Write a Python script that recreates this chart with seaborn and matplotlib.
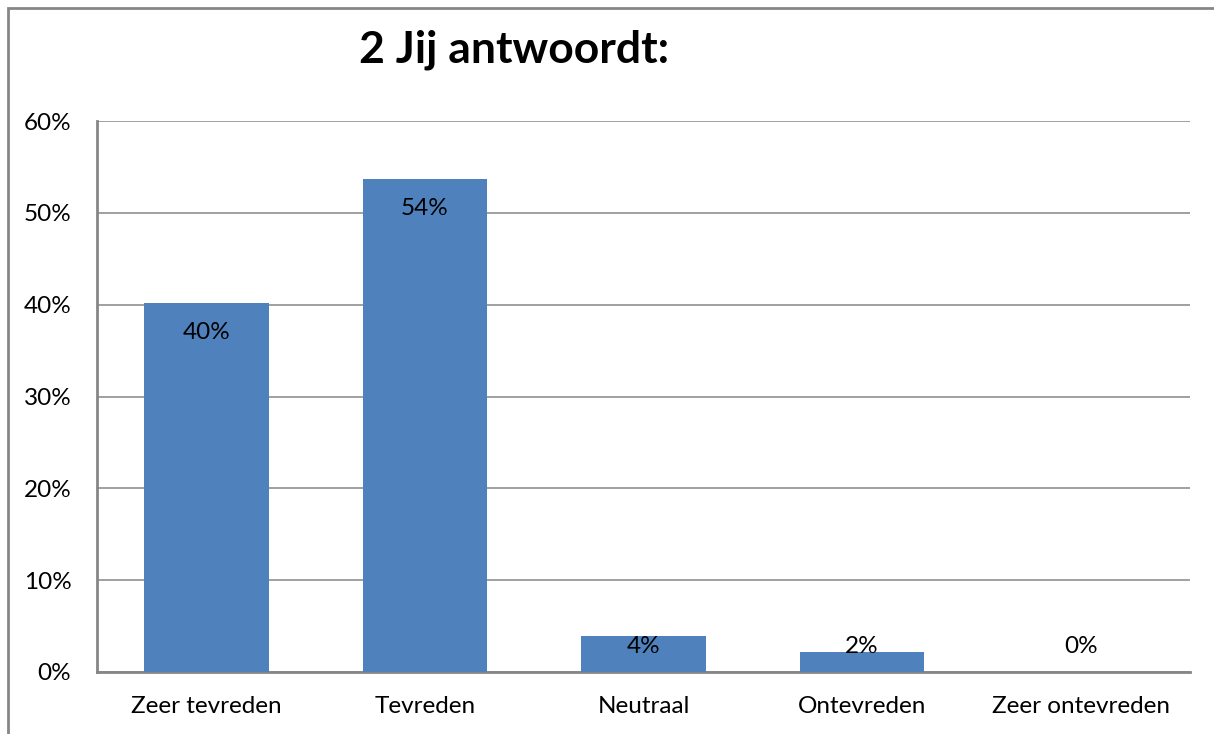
import matplotlib
matplotlib.use("Agg")
import matplotlib.pyplot as plt
import seaborn as sns
import pandas as pd
from matplotlib.patches import Rectangle

categories = ["Zeer tevreden", "Tevreden", "Neutraal", "Ontevreden", "Zeer ontevreden"]
values = [40.2, 53.7, 3.9, 2.2, 0.0]
labels = ["40%", "54%", "4%", "2%", "0%"]
yticks = [0, 10, 20, 30, 40, 50, 60]
ytick_labels = ["0%", "10%", "20%", "30%", "40%", "50%", "60%"]
title = "2 Jij antwoordt:"

sns.set_theme(style="white")
plt.rcParams['font.family'] = ['Lato', 'DejaVu Sans']
plt.rcParams['text.color'] = 'black'

W, H = 1214, 734
fig = plt.figure(figsize=(W / 100, H / 100), dpi=100)
ax = fig.add_axes([97 / W, 1 - 672 / H, (1190 - 97) / W, (672 - 121) / H])

df = pd.DataFrame({"cat": categories, "val": values})
sns.barplot(data=df, x="cat", y="val", color="#4F81BD", saturation=1, width=0.57,
            linewidth=0, edgecolor="none", ax=ax, zorder=3)

ax.set_ylim(0, 60)
ax.set_xlim(-0.5, 4.5)
ax.set_yticks(yticks)
ax.set_yticklabels(ytick_labels)
ax.yaxis.grid(True, color="#868686", linewidth=1.1, zorder=0)
ax.set_axisbelow(True)
ax.set_xlabel("")
ax.set_ylabel("")
ax.tick_params(axis="both", length=0, labelsize=17.5, colors="black")
ax.tick_params(axis="y", pad=18.5)
ax.tick_params(axis="x", pad=17.5)
for s in ["top", "right"]:
    ax.spines[s].set_visible(False)
for s in ["left", "bottom"]:
    ax.spines[s].set_color("#868686")
    ax.spines[s].set_linewidth(2)

for i, (v, lab) in enumerate(zip(values, labels)):
    y = max(v - 3.26, 2.83)
    ax.text(i, y, lab, ha="center", va="center", fontsize=17.5, color="black", zorder=5)

fig.text(514 / W, 1 - 50 / H, title, ha="center", va="center", fontsize=32,
         fontweight="bold", color="black")

border = Rectangle((8 / W, -0.1), 1.2, 1.1 - 8 / H, transform=fig.transFigure,
                   fill=False, edgecolor="#868686", linewidth=2)
fig.patches.append(border)

fig.savefig("out.png", dpi=100)
